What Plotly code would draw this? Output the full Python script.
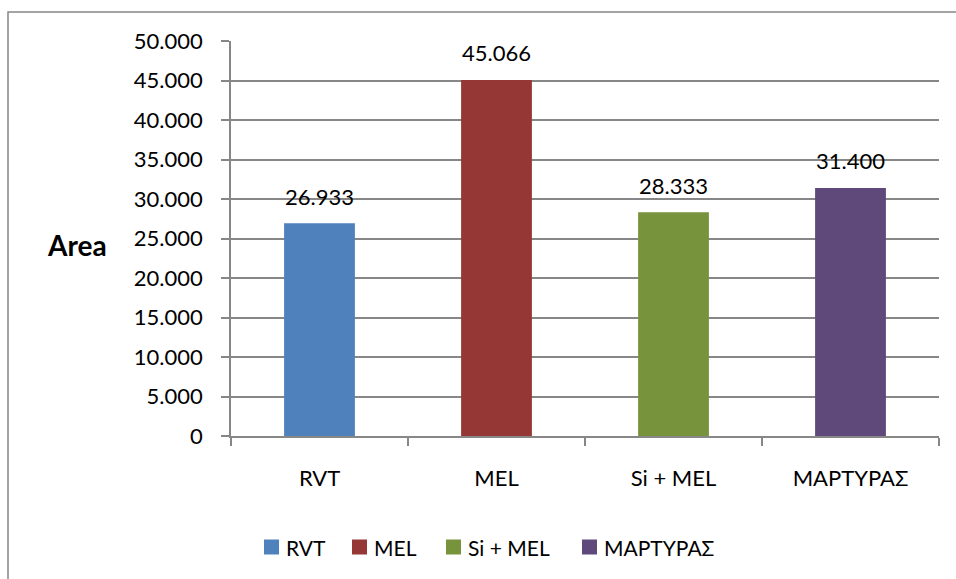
import plotly.graph_objects as go

# Measured area per treatment
categories = ["RVT", "MEL", "Si + MEL", "ΜΑΡΤΥΡΑΣ"]
area_values = [26933, 45066, 28333, 31400]
bar_colors = ["#4F81BD", "#953735", "#77933C", "#5F497A"]
y_ticks = list(range(0, 50001, 5000))

FONT = "Lato, 'Open Sans', 'DejaVu Sans', sans-serif"
GREY = "#878787"

W, H = 956, 579
L, R, T, B = 231, 17, 41, 143
PW, PH = W - L - R, H - T - B


def px_x(x):
    return (x - L) / PW


def px_y(y):
    return (H - B - y) / PH


fig = go.Figure()
for cat, val, col in zip(categories, area_values, bar_colors):
    fig.add_trace(go.Bar(
        x=[cat], y=[val], name=cat, width=0.4,
        marker=dict(color=col, line=dict(width=0)),
        hoverinfo="x+y", showlegend=False,
    ))

# value labels above each bar
for cat, val in zip(categories, area_values):
    fig.add_annotation(
        x=cat, y=val, xref="x", yref="y",
        text=f"{val:,}".replace(",", "."),
        showarrow=False, yanchor="middle", yshift=27,
        font=dict(family=FONT, size=22, color="#000000"),
    )

# y-axis title, written horizontally
fig.add_annotation(
    x=px_x(77), y=px_y(245), xref="paper", yref="paper",
    text="<b>Area</b>", showarrow=False,
    xanchor="center", yanchor="middle",
    font=dict(family=FONT, size=28, color="#000000"),
)

# legend row below the plot: colour key square followed by the series name
legend_square_left = [264, 352, 446, 582]
legend_y = 547
for left, cat, col in zip(legend_square_left, categories, bar_colors):
    fig.add_shape(
        type="rect", xref="paper", yref="paper",
        x0=px_x(left), x1=px_x(left + 15),
        y0=px_y(legend_y + 7.5), y1=px_y(legend_y - 7.5),
        line=dict(width=0), fillcolor=col,
    )
    fig.add_annotation(
        x=px_x(left + 20), y=px_y(legend_y), xref="paper", yref="paper",
        text=cat, showarrow=False, xanchor="left", yanchor="middle",
        font=dict(family=FONT, size=21, color="#000000"),
    )

# chart-area frame
fig.add_shape(
    type="rect", xref="paper", yref="paper",
    x0=px_x(8), x1=px_x(975), y0=px_y(12), y1=px_y(600),
    line=dict(color=GREY, width=1.5), fillcolor="rgba(0,0,0,0)",
    layer="below",
)

fig.update_layout(
    width=W, height=H, autosize=False,
    margin=dict(l=L, r=R, t=T, b=B, pad=0),
    paper_bgcolor="white", plot_bgcolor="white",
    barmode="overlay",
    separators=",.",
    font=dict(family=FONT, size=22, color="#000000"),
    showlegend=False,
    xaxis=dict(
        type="category", categoryorder="array", categoryarray=categories,
        range=[-0.5, 3.5], tickson="boundaries",
        ticks="outside", ticklen=8, tickwidth=1.5, tickcolor=GREY,
        showline=True, linecolor=GREY, linewidth=1.5,
        showgrid=False, zeroline=False,
        ticklabelstandoff=22,
        tickfont=dict(family=FONT, size=22, color="#000000"),
    ),
    yaxis=dict(
        range=[0, 50000], tickvals=y_ticks, tickformat=",d",
        ticks="outside", ticklen=8, tickwidth=1.5, tickcolor=GREY,
        showline=True, linecolor=GREY, linewidth=1.5,
        showgrid=True, gridcolor=GREY, gridwidth=1.5,
        zeroline=False, ticklabelstandoff=14,
        tickfont=dict(family=FONT, size=22, color="#000000"),
    ),
)

fig.write_html("out.html")
